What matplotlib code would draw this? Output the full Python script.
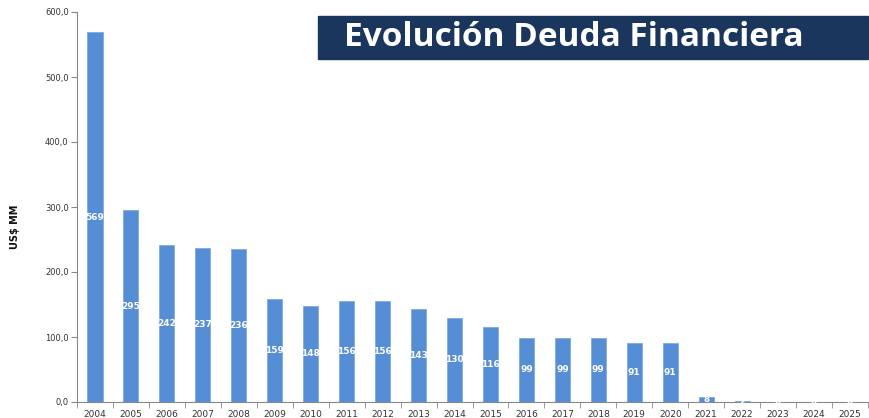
import numpy as np
import matplotlib.pyplot as plt
from matplotlib.ticker import FuncFormatter

years = [str(y) for y in range(2004, 2026)]
deuda = [569, 295, 242, 237, 236, 159, 148, 156, 156, 143, 130, 116,
         99, 99, 99, 91, 91, 8, 2, 0, 0, 0]
titulo = 'Evolución Deuda Financiera'
ylabel = 'US$ MM'

bar_color = '#558ED5'
axis_color = '#888888'
text_color = '#333333'

fig = plt.figure(figsize=(8.7, 4.18), dpi=100)
ax = fig.add_axes([77/870, 16/418, (868-77)/870, 390/418])

x = np.arange(len(years))
bars = ax.bar(x, deuda, width=0.42, color=bar_color, edgecolor='#7FAAE0', linewidth=0.6)

for xi, v in zip(x, deuda):
    ax.text(xi, v/2, str(v), ha='center', va='center', color='white',
            fontsize=6.5, fontweight='semibold')

ax.set_xlim(-0.5, len(years) - 0.5)
ax.set_ylim(0, 600)
ax.set_yticks(np.arange(0, 601, 100))
ax.yaxis.set_major_formatter(FuncFormatter(lambda v, p: f'{v:.1f}'.replace('.', ',')))
ax.set_xticks(x)
ax.set_xticklabels(years)
ax.set_xticks(np.arange(-0.5, len(years)), minor=True)
ax.tick_params(axis='x', which='major', length=0, pad=6, labelsize=6.5, labelcolor=text_color)
ax.tick_params(axis='x', which='minor', length=4, color=axis_color, direction='out')
ax.tick_params(axis='y', length=4, color=axis_color, labelsize=6, labelcolor=text_color, pad=2)

for s in ['top', 'right']:
    ax.spines[s].set_visible(False)
ax.spines['left'].set_color(axis_color)
ax.spines['bottom'].set_color(axis_color)

fig.text(15/870, 1 - 227/418, ylabel, rotation=90, ha='center', va='center',
         fontsize=7, fontweight='bold', color='#111111')

# title banner
fig.patches.append(plt.Rectangle((318/870, 1 - 59/418), (868-318)/870, 43/418,
                                 transform=fig.transFigure, color='#1B365D', zorder=5))
fig.text(344/870, 1 - 38/418, titulo, ha='left', va='center', color='white',
         fontsize=24, fontweight='bold', family='Open Sans', zorder=6)

fig.savefig('out.png', dpi=100)
